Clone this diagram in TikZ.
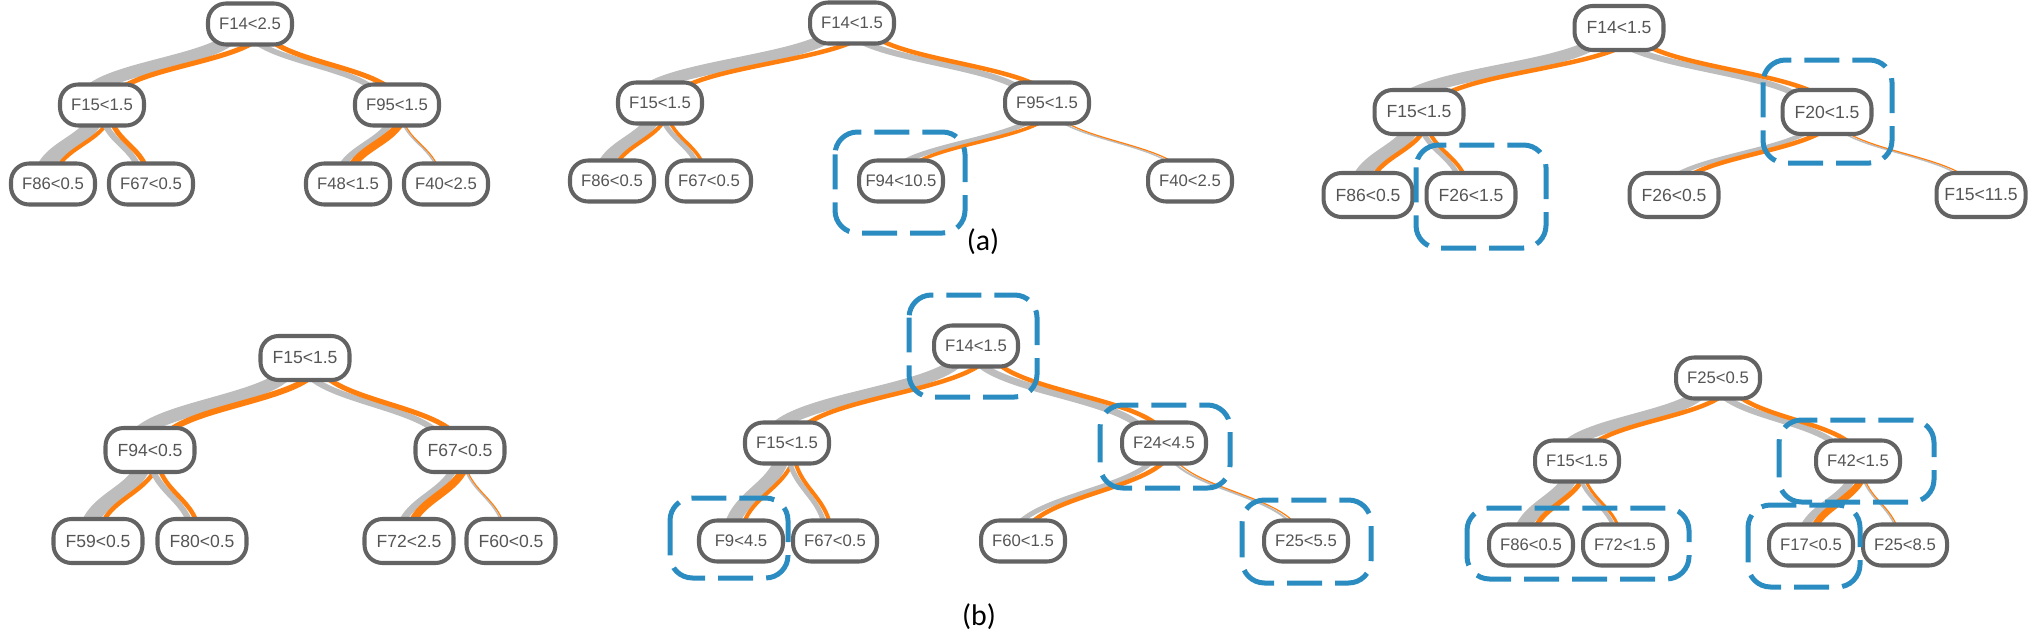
\documentclass[tikz,border=0pt]{standalone}
\usepackage{fontspec}
\setmainfont{Liberation Sans}
\newfontfamily\capfont{Carlito}
\usepackage{tikz}
\usetikzlibrary{calc,backgrounds}
\definecolor{boxgray}{HTML}{636363}
\definecolor{textgray}{HTML}{555555}
\definecolor{flowgray}{HTML}{BDBDBD}
\definecolor{floworange}{HTML}{FF7F0E}
\definecolor{pickblue}{HTML}{2B8CC2}
\tikzstyle{split}=[draw=boxgray, line width=2.3pt, fill=white, rounded corners=0.36cm, minimum width=1.68cm, minimum height=0.82cm, inner sep=1pt, text=textgray, font=\fontsize{9.5}{11}\selectfont]
\tikzstyle{splitbig}=[split, minimum width=1.78cm, minimum height=0.88cm, font=\fontsize{10}{12}\selectfont]
\tikzstyle{pick}=[draw=pickblue, line width=0.1cm, dash pattern=on 0.7cm off 0.26cm, rounded corners=0.45cm]
\tikzstyle{graybar}=[draw=flowgray]
\tikzstyle{orangebar}=[draw=floworange]
\tikzstyle{caption}=[font=\capfont\fontsize{17}{20}\selectfont]
\newcommand{\flow}[6]{%
\pgfmathsetmacro{\flowd}{#5*(#3+#4)/2}%
\draw[graybar, line width=#3*0.02cm] ($(#1)+(3-\flowd,0)$) .. controls +(0,-#6) and +(0,#6) .. ($(#2)+(-6-\flowd,0)$);
\draw[orangebar, line width=#4*0.02cm] ($(#1)+(3+\flowd,0)$) .. controls +(0,-#6) and +(0,#6) .. ($(#2)+(-6+\flowd,0)$);}

\begin{document}
\begin{tikzpicture}[x=0.02cm,y=0.02cm]
\useasboundingbox (0,0) rectangle (2034,-639);
\foreach \n/\x/\y/\lbl in {a1n0/250/24/F14<2.5, a1n1/102/105/F15<1.5, a1n2/397/105/F95<1.5,
	a1n3/53/184/F86<0.5, a1n4/151/184/F67<0.5, a1n5/348/184/F48<1.5, a1n6/446/184/F40<2.5,
	a2n0/852/23/F14<1.5, a2n1/660/103/F15<1.5, a2n2/1047/103/F95<1.5,
	a2n3/612/181/F86<0.5, a2n4/709/181/F67<0.5, a2n5/901/181/F94<10.5, a2n6/1190/181/F40<2.5,
	b2n0/976/346/F14<1.5, b2n1/787/443/F15<1.5, b2n2/1164/443/F24<4.5,
	b2n3/741/541/F9<4.5, b2n4/835/541/F67<0.5, b2n5/1023/541/F60<1.5, b2n6/1306/541/F25<5.5,
	b3n0/1718/378/F25<0.5, b3n1/1577/461/F15<1.5, b3n2/1858/461/F42<1.5,
	b3n3/1531/545/F86<0.5, b3n4/1625/545/F72<1.5, b3n5/1811/545/F17<0.5, b3n6/1905/545/F25<8.5} {
	\node[split] (\n) at (\x,-\y) {\lbl};
}
\foreach \n/\x/\y/\lbl in {a3n0/1619/28/F14<1.5, a3n1/1419/112/F15<1.5, a3n2/1827/112/F20<1.5,
	a3n3/1368/195/F86<0.5, a3n4/1471/195/F26<1.5, a3n5/1674/195/F26<0.5, a3n6/1981/195/F15<11.5,
	b1n0/305/358/F15<1.5, b1n1/150/450/F94<0.5, b1n2/460/450/F67<0.5,
	b1n3/98/541/F59<0.5, b1n4/202/541/F80<0.5, b1n5/409/541/F72<2.5, b1n6/511/541/F60<0.5} {
	\node[splitbig] (\n) at (\x,-\y) {\lbl};
}
\begin{scope}[on background layer]
\foreach \pa/\ch/\wg/\wo/\kk/\bd in {a1n0/a1n1/12.5/5/1.6/40, a1n0/a1n2/5.5/5/1.6/40,
	a1n1/a1n3/15/4/0.71/40, a1n1/a1n4/6/5/0.71/40, a1n2/a1n5/6.5/8/0.71/40, a1n2/a1n6/1.5/1.2/0.71/40,
	a2n0/a2n1/11.5/4.5/2.1/39, a2n0/a2n2/6/4.5/2.1/39,
	a2n1/a2n3/13/4/0.71/39, a2n1/a2n4/5/3.5/0.71/39, a2n2/a2n5/5/3.5/1.6/39, a2n2/a2n6/1.5/1.2/1.6/39,
	a3n0/a3n1/11.5/4.5/2.1/42, a3n0/a3n2/6/4.5/2.1/42,
	a3n1/a3n3/14/4.5/0.71/42, a3n1/a3n4/5/4/0.71/42, a3n2/a3n5/4.5/4.5/1.6/42, a3n2/a3n6/1.5/1.2/1.6/42,
	b1n0/b1n1/13/6/1.47/46, b1n0/b1n2/6/5/1.47/46,
	b1n1/b1n3/15/4.5/0.69/46, b1n1/b1n4/6/4.5/0.69/46, b1n2/b1n5/7/8/0.69/46, b1n2/b1n6/1.5/1.2/0.69/46,
	b2n0/b2n1/11.5/4.5/1.65/48, b2n0/b2n2/7/4.5/1.65/48,
	b2n1/b2n3/14/4/0.64/48, b2n1/b2n4/5/4/0.64/48, b2n2/b2n5/5/4.5/1.3/48, b2n2/b2n6/2/1.2/1.3/48,
	b3n0/b3n1/11.5/4.5/1.5/42, b3n0/b3n2/6/4.5/1.5/42,
	b3n1/b3n3/14/5/0.68/42, b3n1/b3n4/4/3/0.68/42, b3n2/b3n5/8/7/0.68/42, b3n2/b3n6/1.5/1.2/0.68/42} {
	\flow{\pa}{\ch}{\wg}{\wo}{\kk}{\bd}
}
\end{scope}
\draw[pick] (835,-132) rectangle (965,-233);
\draw[pick] (1763,-60) rectangle (1892,-163);
\draw[pick] (1416,-145) rectangle (1546,-248);
\draw[pick] (909,-295) rectangle (1037,-397);
\draw[pick] (1100,-405) rectangle (1230,-488);
\draw[pick] (670,-498) rectangle (788,-578);
\draw[pick] (1242,-500) rectangle (1371,-583);
\draw[pick] (1779,-420) rectangle (1934,-502);
\draw[pick] (1467,-508) rectangle (1689,-579);
\draw[pick] (1748,-505) rectangle (1860,-587);
\node[caption] (capa) at (983,-242) {(a)};
\node[caption] (capb) at (979,-617) {(b)};
\end{tikzpicture}
\end{document}
